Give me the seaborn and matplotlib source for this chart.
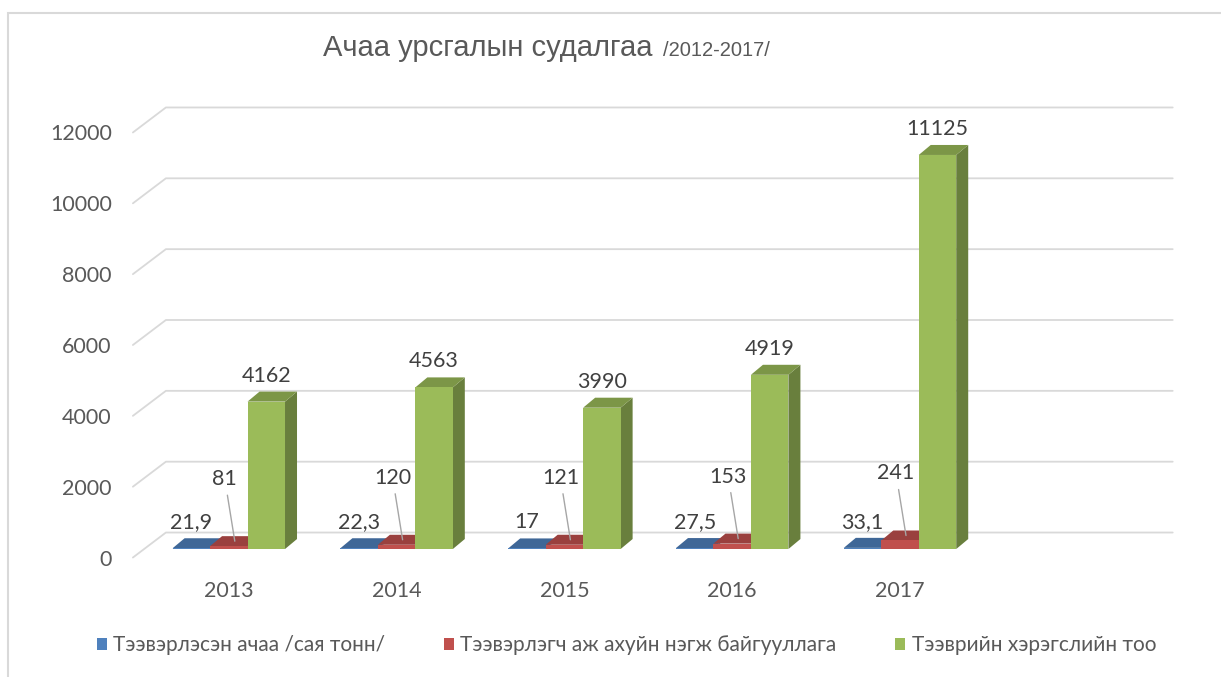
import numpy as np
import pandas as pd
import matplotlib
matplotlib.use('Agg')
import matplotlib.pyplot as plt
from matplotlib.colors import to_rgb
from matplotlib.patches import Polygon, Rectangle, Patch
import seaborn as sns

# chart data
years = ['2013', '2014', '2015', '2016', '2017']
cargo = [21.9, 22.3, 17, 27.5, 33.1]            # сая тонн
companies = [81, 120, 121, 153, 241]
vehicles = [4162, 4563, 3990, 4919, 11125]
series_names = ['Тээвэрлэсэн ачаа /сая тонн/',
                'Тээвэрлэгч аж ахуйн нэгж байгууллага',
                'Тээврийн хэрэгслийн тоо']
colors = ['#4F81BD', '#C0504D', '#9BBB59']
y_ticks = [0, 2000, 4000, 6000, 8000, 10000, 12000]

df = pd.DataFrame({
    'year': years * 3,
    'value': cargo + companies + vehicles,
    'series': np.repeat(series_names, len(years)),
})

sns.set_theme(style='white')
plt.rcParams['font.family'] = ['Lato', 'DejaVu Sans']

W, H = 1221, 677
fig = plt.figure(figsize=(W / 100, H / 100), dpi=100)
# axes box = front plane of the bars (pixel layout from the reference)
ax = fig.add_axes([144.9 / W, (H - 563.2) / H, (1151.7 - 144.9) / W, (563.2 - 109.8) / H])
ax.set_facecolor('none')

sns.barplot(data=df, x='year', y='value', hue='series', palette=colors,
            width=0.67, saturation=1, ax=ax, legend=False)
ax.set_xlim(-0.5, 5.5)
ax.set_ylim(-400, 12400)
sns.despine(ax=ax, left=True, bottom=True)
ax.set_xlabel('')
ax.set_ylabel('')

# pixel -> data conversion
p0 = ax.transData.transform((0, 0))
p1 = ax.transData.transform((1, 1000))
ppx = p1[0] - p0[0]
ppu = (p1[1] - p0[1]) / 1000
xl, xr = ax.get_xlim()


def shade(c, f):
    return tuple(np.array(to_rgb(c)) * f)


# fake 3D: side and top faces for every bar
dx, dy = 12 / ppx, 10 / ppu
for i, cont in enumerate(ax.containers):
    col = colors[i]
    for bar in cont:
        x0, w, h = bar.get_x(), bar.get_width(), bar.get_height()
        z = 2 + x0
        side = Polygon([(x0 + w, 0), (x0 + w + dx, dy), (x0 + w + dx, h + dy), (x0 + w, h)],
                       closed=True, fc=shade(col, 0.68), ec='none', zorder=z)
        top = Polygon([(x0, h), (x0 + w, h), (x0 + w + dx, h + dy), (x0 + dx, h + dy)],
                      closed=True, fc=shade(col, 0.8), ec='none', zorder=z + 0.01)
        ax.add_patch(side)
        ax.add_patch(top)
        bar.set_edgecolor('none')
        bar.set_zorder(z + 0.02)

# back wall gridlines with the little diagonal to the front
for v in y_ticks:
    xs = [xl - 12 / ppx, xl + 21 / ppx, xr + 21 / ppx]
    ys = [v - 8.5 / ppu, v + 16.5 / ppu, v + 16.5 / ppu]
    ax.plot(xs, ys, color='#d9d9d9', lw=1.3, clip_on=False, zorder=0.5)

ax.set_yticks([v - 8.5 / ppu for v in y_ticks], labels=[str(v) for v in y_ticks])
ax.tick_params(axis='y', length=0, pad=23.8, labelsize=15.5, labelcolor='#595959')
ax.set_xticks(range(len(years)), labels=years)
ax.tick_params(axis='x', length=0, pad=13, labelsize=15.5, labelcolor='#595959')
ax.grid(False)

# data labels
for i, cont in enumerate(ax.containers):
    vals = [cargo, companies, vehicles][i]
    for bar, v in zip(cont, vals):
        cx = bar.get_x() + bar.get_width() / 2
        h = bar.get_height()
        txt = f'{v:g}'.replace('.', ',')
        if i == 1:
            ax.annotate(txt, xy=(cx + dx / 2, h + dy / 2), xytext=(-10, 62), textcoords='offset pixels',
                        ha='center', va='center', fontsize=15.5, color='#404040', zorder=20,
                        arrowprops=dict(arrowstyle='-', color='#a6a6a6', lw=1, shrinkA=2, shrinkB=0))
        else:
            ax.annotate(txt, xy=(cx, h), xytext=(0, 26), textcoords='offset pixels',
                        ha='center', va='center', fontsize=15.5, color='#404040', zorder=20)

# title
fig.text(323 / W, 1 - 56 / H, 'Ачаа урсгалын судалгаа', fontsize=21, va='baseline',
         color='#595959', family=['Liberation Sans', 'DejaVu Sans'])
fig.text(663 / W, 1 - 56 / H, '/2012-2017/', fontsize=14.5, va='baseline',
         color='#595959', family=['Liberation Sans', 'DejaVu Sans'])

# legend
handles = [Patch(fc=c, ec='none') for c in colors]
fig.legend(handles, series_names, loc='center', bbox_to_anchor=(0.513, 1 - 645 / H), ncol=3,
           frameon=False, fontsize=15, handlelength=0.5, handleheight=0.5,
           handletextpad=0.3, columnspacing=2.8, labelcolor='#595959')

# chart area border
fig.add_artist(Rectangle((8 / W, -0.1), 1.2, (H - 13) / H + 0.1, transform=fig.transFigure,
                         fill=False, ec='#d9d9d9', lw=1.5))

fig.savefig('out.png', dpi=100)
